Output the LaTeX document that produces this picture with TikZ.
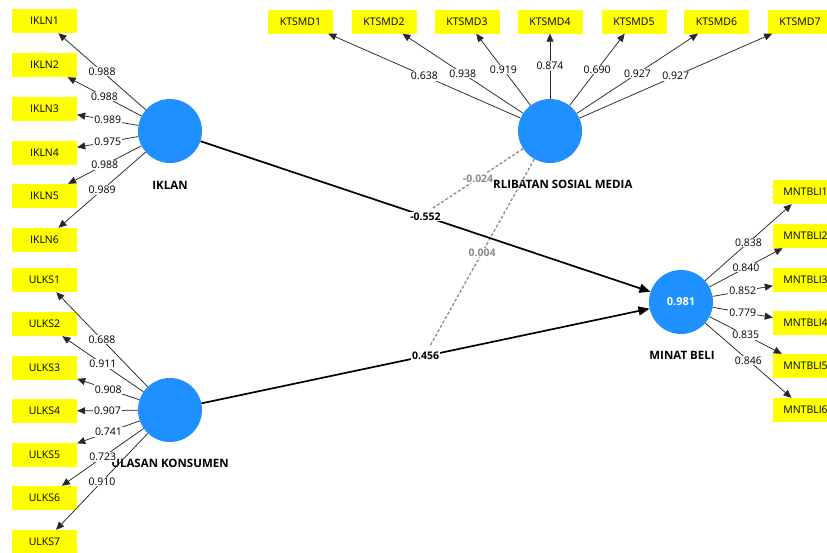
\documentclass[tikz,border=0pt]{standalone}
\usepackage{fontspec}
\setmainfont{Open Sans}
\usetikzlibrary{positioning, calc, arrows.meta}
\definecolor{lvblue}{RGB}{30,144,255}
\definecolor{mvyellow}{RGB}{255,255,0}
\definecolor{loadgray}{RGB}{40,40,40}
\definecolor{modgray}{RGB}{140,140,140}

\begin{document}
\begin{tikzpicture}[x=1pt, y=-1pt, >={Triangle[length=8pt,width=7pt]},
    latent/.style={circle, fill=lvblue, minimum size=64pt, inner sep=0pt},
    indicator/.style={fill=mvyellow, minimum width=65pt, minimum height=24pt, inner sep=0pt, font=\fontsize{10.5}{12}\selectfont},
    load/.style={->, draw=loadgray, line width=0.75pt},
    loadlbl/.style={fill=white, inner sep=1pt, font=\fontsize{10.5}{12}\selectfont},
    struct/.style={-{Triangle[length=11pt,width=9pt]}, line width=1.7pt},
    structlbl/.style={fill=white, inner sep=1pt, font=\bfseries\fontsize{10.5}{12}\selectfont},
    moder/.style={draw=modgray, line width=1.3pt, dash pattern=on 3pt off 2pt},
    moderlbl/.style={fill=white, inner sep=1pt, text=modgray, font=\bfseries\fontsize{10.5}{12}\selectfont},
    lvname/.style={inner sep=0pt, font=\bfseries\fontsize{11.5}{13}\selectfont}]
    \useasboundingbox (0,0) rectangle (827,552);

    % Latent variables
    \node[latent] (iklan) at (170,131) {};
    \node[latent] (ulasan) at (170,410) {};
    \node[latent] (ktsmd) at (550,131) {};
    \node[latent, text=white, font=\bfseries\fontsize{11}{13}\selectfont] (minat) at (681,302) {0.981};

    % Latent variable names
    \node[lvname] (iklanname) at (170,185) {IKLAN};
    \node[lvname, anchor=west] (ktsmdname) at (493,184) {RLIBATAN SOSIAL MEDIA};
    \node[lvname] (ulasanname) at (170,463) {ULASAN KONSUMEN};
    \node[lvname] (minatname) at (682,355) {MINAT BELI};

    % Indicators of IKLAN
    \node[indicator] (ikln1) at (44.5,21) {IKLN1};
    \node[indicator] (ikln2) at (44.5,65) {IKLN2};
    \node[indicator] (ikln3) at (44.5,109) {IKLN3};
    \node[indicator] (ikln4) at (44.5,153) {IKLN4};
    \node[indicator] (ikln5) at (44.5,196) {IKLN5};
    \node[indicator] (ikln6) at (44.5,240) {IKLN6};

    % Indicators of ULASAN KONSUMEN
    \node[indicator] (ulks1) at (44.5,280) {ULKS1};
    \node[indicator] (ulks2) at (44.5,324) {ULKS2};
    \node[indicator] (ulks3) at (44.5,368) {ULKS3};
    \node[indicator] (ulks4) at (44.5,411) {ULKS4};
    \node[indicator] (ulks5) at (44.5,455) {ULKS5};
    \node[indicator] (ulks6) at (44.5,498) {ULKS6};
    \node[indicator] (ulks7) at (44.5,542) {ULKS7};

    % Indicators of sosial media
    \node[indicator] (ktsmd1) at (300.5,21.5) {KTSMD1};
    \node[indicator] (ktsmd2) at (384,21.5) {KTSMD2};
    \node[indicator] (ktsmd3) at (467,21.5) {KTSMD3};
    \node[indicator] (ktsmd4) at (550,21.5) {KTSMD4};
    \node[indicator] (ktsmd5) at (634,21.5) {KTSMD5};
    \node[indicator] (ktsmd6) at (716.5,21.5) {KTSMD6};
    \node[indicator] (ktsmd7) at (800,21.5) {KTSMD7};

    % Indicators of MINAT BELI
    \node[indicator] (mntbli1) at (805.5,192) {MNTBLI1};
    \node[indicator] (mntbli2) at (805.5,236) {MNTBLI2};
    \node[indicator] (mntbli3) at (805.5,280) {MNTBLI3};
    \node[indicator] (mntbli4) at (805.5,323) {MNTBLI4};
    \node[indicator] (mntbli5) at (805.5,366) {MNTBLI5};
    \node[indicator] (mntbli6) at (805.5,410) {MNTBLI6};

    % Outer loadings
    \draw[load] (iklan) -- node[loadlbl] {0.988} (ikln1);
    \draw[load] (iklan) -- node[loadlbl] {0.988} (ikln2);
    \draw[load] (iklan) -- node[loadlbl] {0.989} (ikln3);
    \draw[load] (iklan) -- node[loadlbl] {0.975} (ikln4);
    \draw[load] (iklan) -- node[loadlbl] {0.988} (ikln5);
    \draw[load] (iklan) -- node[loadlbl] {0.989} (ikln6);

    \draw[load] (ulasan) -- node[loadlbl] {0.688} (ulks1);
    \draw[load] (ulasan) -- node[loadlbl] {0.911} (ulks2);
    \draw[load] (ulasan) -- node[loadlbl] {0.908} (ulks3);
    \draw[load] (ulasan) -- node[loadlbl] {0.907} (ulks4);
    \draw[load] (ulasan) -- node[loadlbl] {0.741} (ulks5);
    \draw[load] (ulasan) -- node[loadlbl] {0.723} (ulks6);
    \draw[load] (ulasan) -- node[loadlbl] {0.910} (ulks7);

    \draw[load] (ktsmd) -- node[loadlbl] {0.638} (ktsmd1);
    \draw[load] (ktsmd) -- node[loadlbl] {0.938} (ktsmd2);
    \draw[load] (ktsmd) -- node[loadlbl] {0.919} (ktsmd3);
    \draw[load] (ktsmd) -- node[loadlbl] {0.874} (ktsmd4);
    \draw[load] (ktsmd) -- node[loadlbl] {0.690} (ktsmd5);
    \draw[load] (ktsmd) -- node[loadlbl] {0.927} (ktsmd6);
    \draw[load] (ktsmd) -- node[loadlbl] {0.927} (ktsmd7);

    \draw[load] (minat) -- node[loadlbl] {0.838} (mntbli1);
    \draw[load] (minat) -- node[loadlbl] {0.840} (mntbli2);
    \draw[load] (minat) -- node[loadlbl] {0.852} (mntbli3);
    \draw[load] (minat) -- node[loadlbl] {0.779} (mntbli4);
    \draw[load] (minat) -- node[loadlbl] {0.835} (mntbli5);
    \draw[load] (minat) -- node[loadlbl] {0.846} (mntbli6);

    % Moderating effects
    \coordinate (modiklan) at (433,208);
    \coordinate (modulasan) at (430,346);
    \draw[moder] (ktsmd) -- node[moderlbl] {-0.024} (modiklan);
    \draw[moder] (ktsmd) -- node[moderlbl] {0.004} (modulasan);

    % Path coefficients
    \draw[struct] (iklan) -- node[structlbl] {-0.552} (minat);
    \draw[struct] (ulasan) -- node[structlbl] {0.456} (minat);
\end{tikzpicture}
\end{document}
